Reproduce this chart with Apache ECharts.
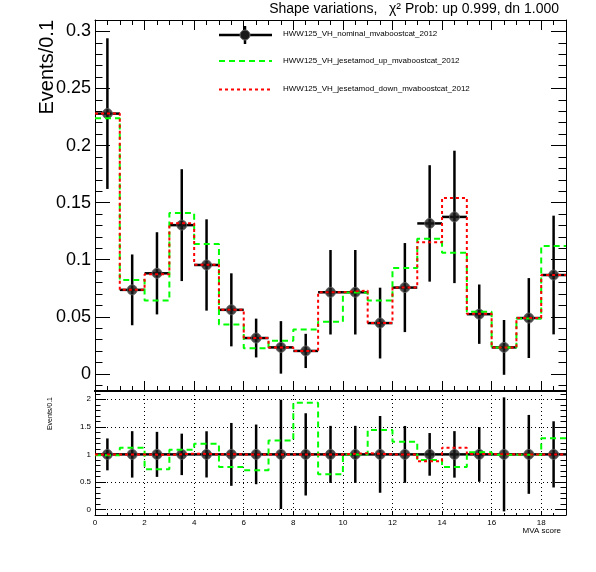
<!DOCTYPE html>
<html>
<head>
<meta charset="utf-8">
<script src="https://cdn.jsdelivr.net/npm/echarts@6/dist/echarts.min.js"></script>
<style>
  html, body { margin: 0; padding: 0; background: #fff; }
  #shapechart { width: 596px; height: 572px; }
</style>
</head>
<body>
<div id="shapechart"></div>
<script>
// bin lower edges (MVA score), width 1
const binLow = [0, 1, 2, 3, 4, 5, 6, 7, 8, 9, 10, 11, 12, 13, 14, 15, 16, 17, 18];
const nominal = [0.228, 0.0736, 0.0881, 0.1303, 0.0954, 0.0561, 0.0314, 0.0232, 0.0201, 0.0715,
  0.0715, 0.0445, 0.0756, 0.1318, 0.1375, 0.0523, 0.0232, 0.0489, 0.0866];
const nominalErr = [0.066, 0.031, 0.036, 0.049, 0.040, 0.032, 0.017, 0.023, 0.015, 0.037,
  0.037, 0.031, 0.039, 0.051, 0.058, 0.026, 0.024, 0.035, 0.052];
const jesUp = [0.224, 0.0823, 0.0642, 0.141, 0.1137, 0.0433, 0.0224, 0.029, 0.0389, 0.0456,
  0.0712, 0.0642, 0.0928, 0.1183, 0.1061, 0.0544, 0.0230, 0.0486, 0.112];
const jesDown = [0.228, 0.0736, 0.0873, 0.132, 0.0956, 0.0561, 0.0314, 0.0232, 0.0201, 0.0715,
  0.073, 0.0445, 0.0756, 0.1154, 0.1541, 0.0526, 0.0232, 0.0489, 0.0866];
const legendNames = ['HWW125_VH_nominal_mvaboostcat_2012', 'HWW125_VH_jesetamod_up_mvaboostcat_2012',
  'HWW125_VH_jesetamod_down_mvaboostcat_2012'];

const FONT = 'Liberation Sans, Arial, sans-serif';
const GREEN = '#00ff00';
const RED = '#ff0000';

// step histogram points
function stepData(vals) {
  const d = binLow.map((x, i) => [x, vals[i]]);
  d.push([binLow[binLow.length - 1] + 1, vals[vals.length - 1]]);
  return d;
}
const ratio = (vals) => vals.map((v, i) => v / nominal[i]);

const pointsTop = binLow.map((x, i) => [x + 0.5, nominal[i], nominal[i] - nominalErr[i], nominal[i] + nominalErr[i]]);
const pointsRatio = binLow.map((x, i) => [x + 0.5, 1, 1 - nominalErr[i] / nominal[i], 1 + nominalErr[i] / nominal[i]]);

function renderErr(params, api) {
  const x = api.value(0), y = api.value(1);
  const a = api.coord([x - 0.5, y]), b = api.coord([x + 0.5, y]);
  const lo = api.coord([x, api.value(2)]), hi = api.coord([x, api.value(3)]);
  const st = { stroke: '#000', lineWidth: 2.5 };
  return {
    type: 'group',
    children: [
      { type: 'line', shape: { x1: a[0], y1: a[1], x2: b[0], y2: b[1] }, style: st },
      { type: 'line', shape: { x1: lo[0], y1: lo[1], x2: hi[0], y2: hi[1] }, style: st }
    ]
  };
}

function frameX(gridIndex, position, showLabel, tickLen, lineW) {
  return {
    type: 'value', gridIndex, position, min: 0, max: 19, interval: 2,
    axisLine: { show: true, onZero: false, lineStyle: { color: '#000', width: lineW } },
    axisTick: { show: tickLen > 0, inside: true, length: tickLen, lineStyle: { color: '#000' } },
    minorTick: { show: tickLen > 0, splitNumber: 4, length: tickLen / 2, lineStyle: { color: '#000' } },
    axisLabel: {
      show: showLabel, color: '#000', fontSize: 8, fontFamily: FONT, margin: 4,
      formatter: (v) => (v % 2 === 0 ? String(v) : '')
    },
    splitLine: { show: false }
  };
}

function frameY(gridIndex, position, min, max, step, showLabel, fs, tickLen, grid) {
  return {
    type: 'value', gridIndex, position, min, max, minInterval: step, maxInterval: step, splitNumber: 5,
    axisLine: { show: true, onZero: false, lineStyle: { color: '#000' } },
    axisTick: { show: true, inside: true, length: tickLen, lineStyle: { color: '#000' } },
    minorTick: { show: true, splitNumber: 5, length: tickLen / 2, lineStyle: { color: '#000' } },
    axisLabel: {
      show: showLabel, color: '#000', fontSize: fs, fontFamily: FONT, margin: 4,
      formatter: (v) => {
        const r = Math.round(v / step) * step;
        return Math.abs(v - r) < 1e-9 ? String(+v.toFixed(2)) : '';
      }
    },
    splitLine: { show: grid, lineStyle: { color: '#000', type: [1, 3], width: 1 } }
  };
}

const chart = echarts.init(document.getElementById('shapechart'));

const xLow = frameX(1, 'bottom', true, 4, 1);
xLow.splitLine = { show: true, lineStyle: { color: '#000', type: [1, 3], width: 1 } };

const option = {
  animation: false,
  backgroundColor: '#fff',
  textStyle: { fontFamily: FONT },
  grid: [
    { left: 95, top: 20, width: 471, height: 371, outerBoundsMode: 'none' },
    { left: 95, top: 391, width: 471, height: 124, outerBoundsMode: 'none' }
  ],
  xAxis: [
    frameX(0, 'bottom', false, 10, 2),
    frameX(0, 'top', false, 10, 1),
    xLow,
    frameX(1, 'top', false, 0, 2)
  ],
  yAxis: [
    frameY(0, 'left', -0.015, 0.31, 0.05, true, 18, 15, false),
    frameY(0, 'right', -0.015, 0.31, 0.05, false, 18, 15, false),
    frameY(1, 'left', -0.1, 2.15, 0.5, true, 8, 11, true),
    frameY(1, 'right', -0.1, 2.15, 0.5, false, 8, 11, false)
  ],
  series: [
    { name: legendNames[0], type: 'custom', xAxisIndex: 0, yAxisIndex: 0, renderItem: renderErr,
      data: pointsTop, encode: { x: 0, y: 1 }, z: 2 },
    { type: 'scatter', xAxisIndex: 0, yAxisIndex: 0, data: pointsTop.map(p => [p[0], p[1]]),
      symbol: 'circle', symbolSize: 10, itemStyle: { color: '#1a1a1a', borderColor: '#666', borderWidth: 1 }, z: 3 },
    { name: legendNames[1], type: 'line', xAxisIndex: 0, yAxisIndex: 0, step: 'end', data: stepData(jesUp),
      showSymbol: false, lineStyle: { color: GREEN, width: 2, type: [6, 4] }, z: 4 },
    { name: legendNames[2], type: 'line', xAxisIndex: 0, yAxisIndex: 0, step: 'end', data: stepData(jesDown),
      showSymbol: false, lineStyle: { color: RED, width: 2, type: [3, 3] }, z: 5 },

    { type: 'custom', xAxisIndex: 2, yAxisIndex: 2, renderItem: renderErr,
      data: pointsRatio, encode: { x: 0, y: 1 }, z: 2 },
    { type: 'scatter', xAxisIndex: 2, yAxisIndex: 2, data: pointsRatio.map(p => [p[0], p[1]]),
      symbol: 'circle', symbolSize: 10, itemStyle: { color: '#1a1a1a', borderColor: '#666', borderWidth: 1 }, z: 3 },
    { type: 'line', xAxisIndex: 2, yAxisIndex: 2, step: 'end', data: stepData(ratio(jesUp)),
      showSymbol: false, lineStyle: { color: GREEN, width: 2, type: [6, 4] }, z: 4 },
    { type: 'line', xAxisIndex: 2, yAxisIndex: 2, step: 'end', data: stepData(ratio(jesDown)),
      showSymbol: false, lineStyle: { color: RED, width: 2, type: [3, 3] }, z: 5 }
  ],
  graphic: [
    { type: 'text', right: 37, top: 2, style: { text: 'Shape variations,   χ² Prob: up 0.999, dn 1.000',
      font: '14px ' + FONT, fill: '#000' } },
    { type: 'text', x: 47, y: 20, rotation: Math.PI / 2, style: { text: 'Events/0.1', font: '20px ' + FONT,
      fill: '#000', align: 'right', verticalAlign: 'middle' } },
    { type: 'text', x: 50, y: 397, rotation: Math.PI / 2, style: { text: 'Events/0.1', font: '7px ' + FONT,
      fill: '#000', align: 'right', verticalAlign: 'middle' } },
    { type: 'text', x: 561, y: 531, style: { text: 'MVA score', font: '8px ' + FONT, fill: '#000',
      align: 'right', verticalAlign: 'middle' } },
    // legend
    { type: 'line', shape: { x1: 219, y1: 35, x2: 272, y2: 35 }, style: { stroke: '#000', lineWidth: 2.5 } },
    { type: 'line', shape: { x1: 245, y1: 26, x2: 245, y2: 44 }, style: { stroke: '#000', lineWidth: 2.5 } },
    { type: 'circle', shape: { cx: 245, cy: 35, r: 5 }, style: { fill: '#1a1a1a', stroke: '#666', lineWidth: 1 } },
    { type: 'line', shape: { x1: 219, y1: 61, x2: 272, y2: 61 }, style: { stroke: GREEN, lineWidth: 2, lineDash: [6, 4] } },
    { type: 'line', shape: { x1: 219, y1: 89.5, x2: 272, y2: 89.5 }, style: { stroke: RED, lineWidth: 2, lineDash: [3, 3] } },
    { type: 'text', x: 283, y: 34, style: { text: legendNames[0], font: '8px ' + FONT, fill: '#000', verticalAlign: 'middle' } },
    { type: 'text', x: 283, y: 61, style: { text: legendNames[1], font: '8px ' + FONT, fill: '#000', verticalAlign: 'middle' } },
    { type: 'text', x: 283, y: 89, style: { text: legendNames[2], font: '8px ' + FONT, fill: '#000', verticalAlign: 'middle' } }
  ]
};

chart.setOption(option);
</script>
</body>
</html>
